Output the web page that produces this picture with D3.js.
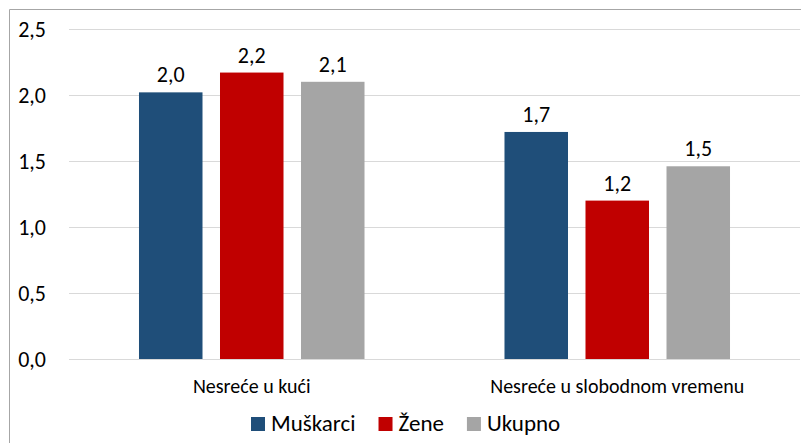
<!DOCTYPE html>
<html>
<head>
<meta charset="utf-8">
<script src="https://cdn.jsdelivr.net/npm/d3@7"></script>
<style>
    body { margin: 0; background: #fff; }
    svg { display: block; font-family: Carlito, Lato, sans-serif; }
</style>
</head>
<body>
<div id="chart"></div>
<script>
// chart data
var categories = ["Nesreće u kući", "Nesreće u slobodnom vremenu"];
var seriesNames = ["Muškarci", "Žene", "Ukupno"];
var muskarci = [2.02, 1.72];
var zene = [2.17, 1.20];
var ukupno = [2.10, 1.46];
var yTicks = [0, 0.5, 1, 1.5, 2, 2.5];

var colors = ["#1f4e79", "#c00000", "#a5a5a5"];
var seriesValues = [muskarci, zene, ukupno];

var width = 801, height = 443;

var svg = d3.select("#chart")
    .append("svg")
    .attr("width", width)
    .attr("height", height);

// outer frame (left + top only are visible)
svg.append("path")
    .attr("d", "M9.5," + height + "V9.5H" + width)
    .attr("fill", "none")
    .attr("stroke", "#a6a6a6");

var x0 = d3.scaleBand()
    .domain(categories)
    .range([69, 800]);

var x1 = d3.scaleBand()
    .domain(seriesNames)
    .range([0, x0.bandwidth()])
    .paddingInner(0.216)
    .paddingOuter(0.864);

var y = d3.scaleLinear()
    .domain([0, 2.5])
    .range([359, 29]);

function fmt(v) {
    return d3.format(".1f")(v).replace(".", ",");
}

// gridlines
svg.append("g")
    .selectAll("line")
    .data(yTicks)
    .enter().append("line")
    .attr("x1", 69)
    .attr("x2", 800)
    .attr("y1", function (d) { return Math.round(y(d)) + 0.5; })
    .attr("y2", function (d) { return Math.round(y(d)) + 0.5; })
    .attr("stroke", "#d9d9d9");

// y tick labels
svg.append("g")
    .selectAll("text")
    .data(yTicks)
    .enter().append("text")
    .attr("x", 46)
    .attr("y", function (d) { return y(d) + 8; })
    .attr("text-anchor", "end")
    .attr("font-size", 22)
    .attr("fill", "#000")
    .text(fmt);

// bars
var rows = [];
categories.forEach(function (c, ci) {
    seriesNames.forEach(function (s, si) {
        rows.push({ category: c, series: s, value: seriesValues[si][ci], color: colors[si] });
    });
});

var group = svg.append("g");

group.selectAll("rect")
    .data(rows)
    .enter().append("rect")
    .attr("x", function (d) { return x0(d.category) + x1(d.series); })
    .attr("y", function (d) { return y(d.value); })
    .attr("width", x1.bandwidth())
    .attr("height", function (d) { return y(0) - y(d.value); })
    .attr("fill", function (d) { return d.color; });

group.selectAll("text")
    .data(rows)
    .enter().append("text")
    .attr("x", function (d) { return x0(d.category) + x1(d.series) + x1.bandwidth() / 2; })
    .attr("y", function (d) { return y(d.value) - 10; })
    .attr("text-anchor", "middle")
    .attr("font-size", 22)
    .attr("fill", "#000")
    .text(function (d) { return fmt(d.value); });

// category labels
svg.append("g")
    .selectAll("text")
    .data(categories)
    .enter().append("text")
    .attr("x", function (d) { return x0(d) + x0.bandwidth() / 2; })
    .attr("y", 393)
    .attr("text-anchor", "middle")
    .attr("font-size", 20)
    .attr("fill", "#000")
    .text(function (d) { return d; });

// legend, items laid out one after another
var legend = svg.append("g");
var lx = 251;
seriesNames.forEach(function (name, i) {
    legend.append("rect")
        .attr("x", lx)
        .attr("y", 417)
        .attr("width", 14)
        .attr("height", 14)
        .attr("fill", colors[i]);
    var t = legend.append("text")
        .attr("x", lx + 20)
        .attr("y", 431)
        .attr("font-size", 23)
        .attr("fill", "#000")
        .text(name);
    lx += 20 + t.node().getComputedTextLength() + 23;
});
</script>
</body>
</html>
